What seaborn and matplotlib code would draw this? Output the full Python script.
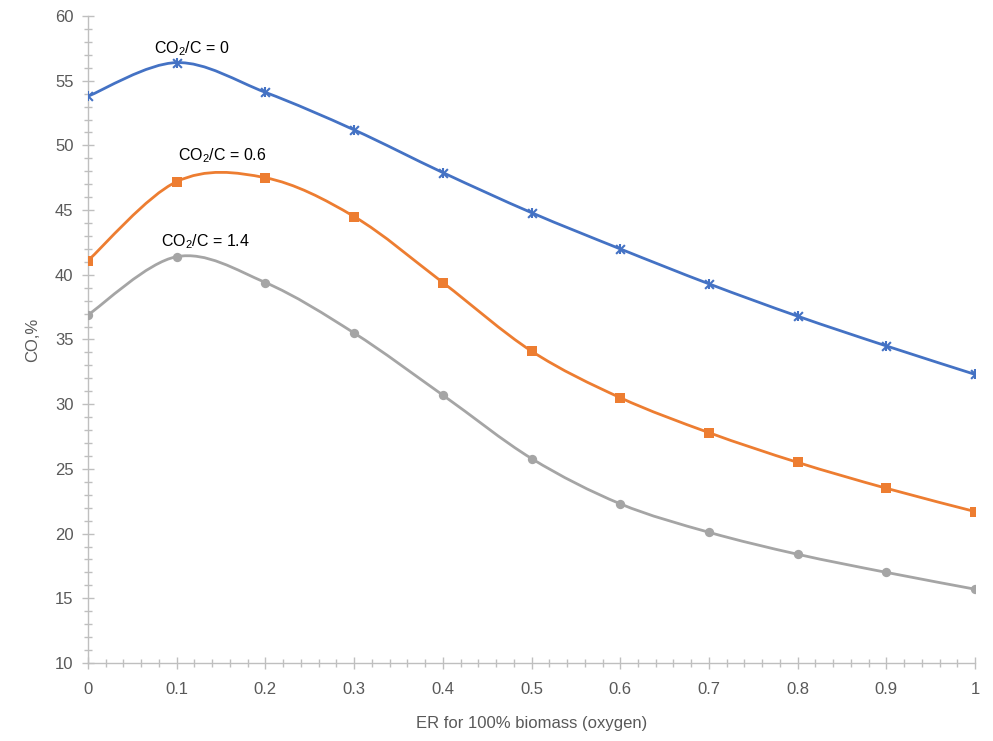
import numpy as np
import pandas as pd
import matplotlib
matplotlib.use("Agg")
import matplotlib.pyplot as plt
from matplotlib.path import Path
from matplotlib.patches import PathPatch
from matplotlib.ticker import MultipleLocator
import seaborn as sns

er = [0.0, 0.1, 0.2, 0.3, 0.4, 0.5, 0.6, 0.7, 0.8, 0.9, 1.0]
co_0 = [53.8, 56.4, 54.1, 51.2, 47.9, 44.8, 42.0, 39.3, 36.8, 34.5, 32.3]
co_06 = [41.1, 47.2, 47.5, 44.5, 39.4, 34.1, 30.5, 27.8, 25.5, 23.5, 21.7]
co_14 = [36.9, 41.4, 39.4, 35.5, 30.7, 25.8, 22.3, 20.1, 18.4, 17.0, 15.7]
labels = ["CO$_2$/C = 0", "CO$_2$/C = 0.6", "CO$_2$/C = 1.4"]
label_pos = [(0.117, 57.5), (0.151, 49.2), (0.132, 42.6)]
colors = ["#4472C4", "#ED7D31", "#A5A5A5"]

sns.set_theme(style="white")
plt.rcParams['font.family'] = ['Liberation Sans', 'DejaVu Sans']
plt.rcParams['mathtext.fontset'] = 'custom'
plt.rcParams['mathtext.rm'] = 'Liberation Sans'
plt.rcParams['mathtext.it'] = 'Liberation Sans:italic'

fig = plt.figure(figsize=(9.93, 7.41), dpi=100)
ax = fig.add_axes([0.0886, 0.1053, 0.8934, 0.8731])

def smooth_path(xs, ys):
    pts = np.column_stack([xs, ys])
    n = len(pts)
    verts = [pts[0]]
    codes = [Path.MOVETO]
    for i in range(n - 1):
        p0 = pts[i - 1] if i > 0 else pts[i]
        p1 = pts[i]
        p2 = pts[i + 1]
        p3 = pts[i + 2] if i + 2 < n else pts[i + 1]
        c1 = p1 + (p2 - p0) / 6.0
        c2 = p2 - (p3 - p1) / 6.0
        verts += [c1, c2, p2]
        codes += [Path.CURVE4] * 3
    return Path(verts, codes)

series = [co_0, co_06, co_14]
rows = []
for lab, vals in zip(labels, series):
    for x, y in zip(er, vals):
        rows.append({"ER": x, "CO": y, "series": lab})
df = pd.DataFrame(rows)

for lab, vals, col in zip(labels, series, colors):
    ax.add_patch(PathPatch(smooth_path(er, vals), facecolor='none',
                           edgecolor=col, lw=2.0, zorder=2))

sub = df[df.series == labels[0]]
sns.scatterplot(data=sub, x="ER", y="CO", marker="x", color=colors[0], s=40,
                linewidth=1.5, ax=ax, zorder=3, legend=False)
sns.scatterplot(data=sub, x="ER", y="CO", marker="|", color=colors[0], s=55,
                linewidth=1.5, ax=ax, zorder=3, legend=False)
sub = df[df.series == labels[1]]
sns.scatterplot(data=sub, x="ER", y="CO", marker="s", color=colors[1], s=45,
                linewidth=0, ax=ax, zorder=3, legend=False)
sub = df[df.series == labels[2]]
sns.scatterplot(data=sub, x="ER", y="CO", marker="o", color=colors[2], s=45,
                linewidth=0, ax=ax, zorder=3, legend=False)

for lab, (x, y) in zip(labels, label_pos):
    ax.text(x, y, lab, ha='center', va='center', fontsize=11.5, color='#000000')

ax.set_xlim(0, 1)
ax.set_ylim(10, 60)
ax.xaxis.set_major_locator(MultipleLocator(0.1))
ax.xaxis.set_minor_locator(MultipleLocator(0.02))
ax.yaxis.set_major_locator(MultipleLocator(5))
ax.yaxis.set_minor_locator(MultipleLocator(1))
ax.set_xticks(er)
ax.set_xticklabels(["0", "0.1", "0.2", "0.3", "0.4", "0.5", "0.6", "0.7", "0.8", "0.9", "1"])

for s in ['top', 'right']:
    ax.spines[s].set_visible(False)
for s in ['left', 'bottom']:
    ax.spines[s].set_color('#BFBFBF')
    ax.spines[s].set_linewidth(1.0)

ax.tick_params(which='major', direction='inout', length=9, width=1, color='#BFBFBF',
               labelsize=12, labelcolor='#595959', bottom=True, left=True)
ax.tick_params(axis='x', which='major', pad=9)
ax.tick_params(axis='y', which='major', pad=6)
ax.tick_params(which='minor', direction='inout', length=6, width=1, color='#BFBFBF',
               bottom=True, left=True)
ax.set_xlabel("ER for 100% biomass (oxygen)", fontsize=12, color='#595959')
ax.set_ylabel("CO,%", fontsize=12, color='#595959')
ax.xaxis.set_label_coords(0.5, -0.082)
ax.yaxis.set_label_coords(-0.054, 0.5)
ax.grid(False)

fig.savefig("out.png", dpi=100)
